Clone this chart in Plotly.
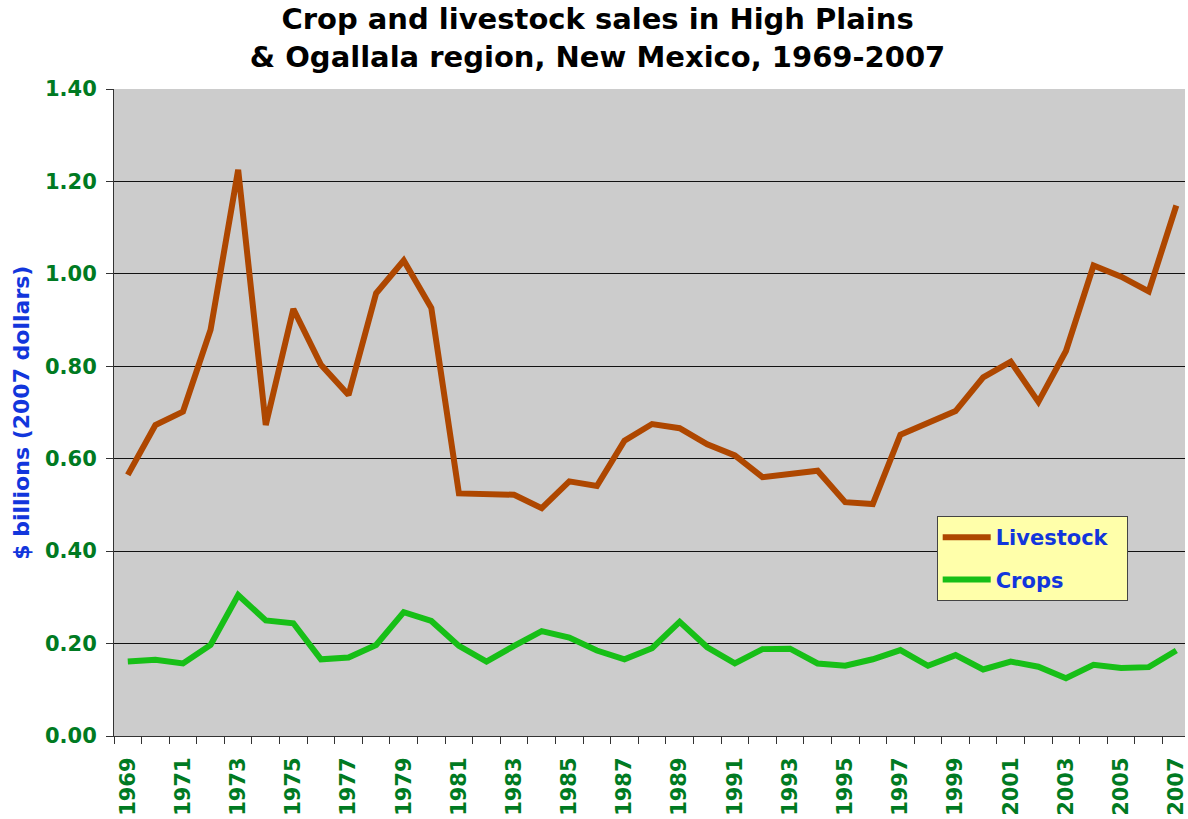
import plotly.graph_objects as go

years = list(range(1969, 2008))
livestock = [0.565, 0.673, 0.702, 0.879, 1.225, 0.673, 0.924, 0.803, 0.738, 0.958,
             1.029, 0.926, 0.525, 0.523, 0.522, 0.493, 0.551, 0.541, 0.639, 0.675,
             0.666, 0.631, 0.607, 0.560, 0.567, 0.574, 0.506, 0.502, 0.652, 0.677,
             0.703, 0.776, 0.810, 0.723, 0.833, 1.018, 0.994, 0.962, 1.148]
crops = [0.161, 0.165, 0.157, 0.197, 0.305, 0.250, 0.244, 0.166, 0.170, 0.197,
         0.268, 0.249, 0.195, 0.161, 0.195, 0.227, 0.213, 0.185, 0.166, 0.190,
         0.247, 0.192, 0.157, 0.188, 0.189, 0.157, 0.152, 0.166, 0.186, 0.152,
         0.175, 0.144, 0.161, 0.150, 0.125, 0.154, 0.147, 0.149, 0.185]
label_years = [y for y in years if y % 2 == 1]
y_ticks = [0.0, 0.2, 0.4, 0.6, 0.8, 1.0, 1.2, 1.4]

GREEN_TXT = "#007A22"
BLUE_TXT = "#1236DC"
FONT = "DejaVu Sans"

fig = go.Figure()
fig.add_trace(go.Scatter(x=years, y=livestock, mode="lines",
                         name="<b>Livestock</b>&nbsp;&nbsp;",
                         line=dict(color="#AE4700", width=6), legendgroup="a"))
fig.add_trace(go.Scatter(x=years, y=crops, mode="lines", name="<b>Crops</b>",
                         line=dict(color="#17BF17", width=6), legendgroup="b"))

W, H = 1188, 819
L, T, B, R = 114, 89, 83, 0
pw = W - L - R
cat_w = 27.67

fig.update_layout(
    width=W, height=H,
    margin=dict(l=L, r=R, t=T, b=B),
    paper_bgcolor="white",
    plot_bgcolor="#CCCCCC",
    font=dict(family=FONT, color="black"),
    title=dict(text="<b>Crop and livestock sales in High Plains<br>& Ogallala region, New Mexico, 1969-2007</b>",
               x=0.503, xanchor="center", y=0.964, yanchor="top",
               font=dict(family=FONT, size=29, color="black")),
    showlegend=True,
    legend=dict(x=(939 - L) / pw, y=(736 - 516) / 647, xanchor="left", yanchor="top",
                bgcolor="#FFFFAA", bordercolor="#444444", borderwidth=1,
                font=dict(family=FONT, size=21, color=BLUE_TXT),
                tracegroupgap=12, itemwidth=48),
    xaxis=dict(range=[1968.5, 1968.5 + pw / cat_w], tickmode="array", tickvals=label_years,
               ticktext=["<b>%d</b>" % y for y in label_years], tickangle=-90, ticks="",
               tickfont=dict(family=FONT, size=21, color=GREEN_TXT),
               ticklabeloverflow="allow",
               showgrid=False, zeroline=False, showline=True, linecolor="#333333", linewidth=1,
               minor=dict(tick0=1968.5, dtick=1, ticks="outside", ticklen=7,
                          tickcolor="#333333", tickwidth=1, showgrid=False),
               ticklabelstandoff=12),
    yaxis=dict(range=[0, 1.4], tickmode="array", tickvals=y_ticks,
               ticktext=["<b>%.2f</b>" % v for v in y_ticks],
               ticks="outside", ticklen=7, tickcolor="#333333",
               tickfont=dict(family=FONT, size=21, color=GREEN_TXT),
               showgrid=True, gridcolor="#111111", gridwidth=1, zeroline=False,
               showline=True, linecolor="#333333", linewidth=1, ticklabelstandoff=5),
)

fig.add_annotation(text="<b>$ billions (2007 dollars)</b>", xref="paper", yref="paper",
                   x=(21 - L) / pw, y=0.5, xanchor="center", yanchor="middle",
                   textangle=-90, showarrow=False,
                   font=dict(family=FONT, size=22, color=BLUE_TXT))

fig.write_html("out.html", config={"displayModeBar": False},
               post_script="document.body.style.margin='0';")
